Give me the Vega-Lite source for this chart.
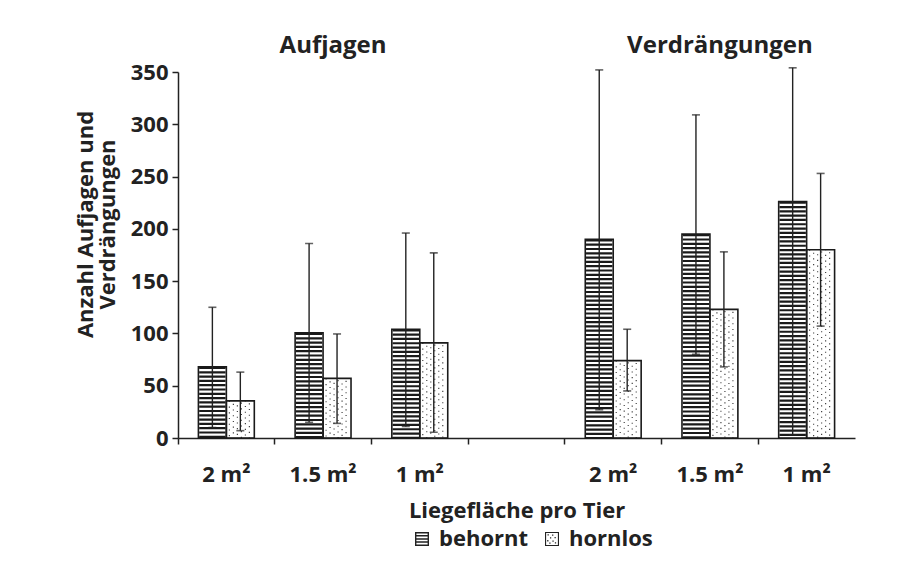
{
  "$schema": "https://vega.github.io/schema/vega-lite/v6.json",
  "width": 677,
  "height": 366,
  "autosize": {"type": "none"},
  "padding": {"left": 178, "top": 72, "right": 57, "bottom": 125},
  "background": "white",
  "config": {
    "view": {"stroke": null},
    "font": "Open Sans"
  },
  "datasets": {
    "counts": [
      {"flaeche": "A2", "gruppe": "behornt", "mittel": 68, "min": 10, "max": 125},
      {"flaeche": "A2", "gruppe": "hornlos", "mittel": 35.5, "min": 7, "max": 63},
      {"flaeche": "A1.5", "gruppe": "behornt", "mittel": 100.5, "min": 15, "max": 186},
      {"flaeche": "A1.5", "gruppe": "hornlos", "mittel": 57, "min": 14, "max": 99.5},
      {"flaeche": "A1", "gruppe": "behornt", "mittel": 104, "min": 11, "max": 196},
      {"flaeche": "A1", "gruppe": "hornlos", "mittel": 91, "min": 5.5, "max": 177},
      {"flaeche": "V2", "gruppe": "behornt", "mittel": 190, "min": 27, "max": 352},
      {"flaeche": "V2", "gruppe": "hornlos", "mittel": 74, "min": 45, "max": 104},
      {"flaeche": "V1.5", "gruppe": "behornt", "mittel": 195, "min": 80, "max": 309},
      {"flaeche": "V1.5", "gruppe": "hornlos", "mittel": 123, "min": 68, "max": 178},
      {"flaeche": "V1", "gruppe": "behornt", "mittel": 226, "min": 3, "max": 354},
      {"flaeche": "V1", "gruppe": "hornlos", "mittel": 180, "min": 107, "max": 253}
    ],
    "heads": [
      {"flaeche": "A1.5", "label": "Aufjagen"},
      {"flaeche": "V1.5", "label": "Verdrängungen"}
    ]
  },
  "encoding": {
    "x": {
      "field": "flaeche",
      "type": "nominal",
      "sort": null,
      "scale": {
        "domain": ["A2", "A1.5", "A1", "gap", "V2", "V1.5", "V1"],
        "paddingInner": 0,
        "paddingOuter": 0
      },
      "axis": {
        "title": "Liegefläche pro Tier",
        "labelExpr": "datum.value == 'gap' ? '' : slice(datum.value, 1) + ' m²'",
        "labelAngle": 0,
        "labelFontSize": 22,
        "labelFontWeight": "bold",
        "labelColor": "#222",
        "labelPadding": 20,
        "bandPosition": 0,
        "domainColor": "#222",
        "domainWidth": 1.5,
        "tickColor": "#222",
        "tickWidth": 1.5,
        "tickSize": 6,
        "titleFontSize": 22,
        "titleFontWeight": "bold",
        "titleColor": "#222",
        "titleY": 79,
        "titleBaseline": "alphabetic"
      }
    }
  },
  "layer": [
    {
      "data": {"name": "counts"},
      "transform": [{"filter": "datum.gruppe == 'behornt'"}],
      "mark": {"type": "rule", "strokeWidth": 26.4, "strokeDash": [2.2, 2.1], "strokeCap": "butt", "color": "#1a1a1a"},
      "encoding": {
        "xOffset": {"field": "gruppe", "type": "nominal", "scale": {"domain": ["behornt", "hornlos"], "paddingInner": 0, "paddingOuter": 0.73}},
        "y": {
          "field": "mittel",
          "type": "quantitative",
          "scale": {"domain": [0, 350], "nice": false},
          "axis": {
            "values": [0, 50, 100, 150, 200, 250, 300, 350],
            "grid": false,
            "labelFontSize": 22,
            "labelFontWeight": "bold",
            "labelColor": "#222",
            "labelPadding": 4,
            "domainColor": "#222",
            "domainWidth": 1.5,
            "tickColor": "#222",
            "tickWidth": 1.5,
            "tickSize": 6,
            "title": ["Anzahl Aufjagen und", "Verdrängungen"],
            "titleFontSize": 22,
            "titleFontWeight": "bold",
            "titleColor": "#222",
            "titleLineHeight": 22,
            "titleX": -86,
            "titleY": 152,
            "titleAngle": -90,
            "titleBaseline": "alphabetic",
            "titleAlign": "center"
          }
        },
        "y2": {"datum": 0}
      }
    },
    {
      "data": {"name": "counts"},
      "transform": [{"filter": "datum.gruppe == 'hornlos'"}],
      "layer": [
        {"mark": {"type": "rule", "xOffset": 3, "strokeWidth": 1.1, "strokeDash": [1.1, 4.6], "strokeDashOffset": 0, "color": "#333"}, "encoding": {}},
        {"mark": {"type": "rule", "xOffset": 7, "strokeWidth": 1.1, "strokeDash": [1.1, 4.6], "strokeDashOffset": 2.8, "color": "#333"}, "encoding": {}},
        {"mark": {"type": "rule", "xOffset": 11, "strokeWidth": 1.1, "strokeDash": [1.1, 4.6], "strokeDashOffset": 1.3, "color": "#333"}, "encoding": {}},
        {"mark": {"type": "rule", "xOffset": 15, "strokeWidth": 1.1, "strokeDash": [1.1, 4.6], "strokeDashOffset": 4.0, "color": "#333"}, "encoding": {}},
        {"mark": {"type": "rule", "xOffset": 19, "strokeWidth": 1.1, "strokeDash": [1.1, 4.6], "strokeDashOffset": 0.6, "color": "#333"}, "encoding": {}},
        {"mark": {"type": "rule", "xOffset": 23, "strokeWidth": 1.1, "strokeDash": [1.1, 4.6], "strokeDashOffset": 3.3, "color": "#333"}, "encoding": {}}
      ],
      "encoding": {
        "y": {"field": "mittel", "type": "quantitative"},
        "y2": {"datum": 0}
      }
    },
    {
      "data": {"name": "counts"},
      "mark": {"type": "bar", "fill": "transparent", "stroke": "#1a1a1a", "strokeWidth": 1.6},
      "encoding": {
        "xOffset": {"field": "gruppe", "type": "nominal"},
        "y": {"field": "mittel", "type": "quantitative"}
      }
    },
    {
      "data": {"name": "counts"},
      "mark": {"type": "point", "filled": true, "size": 0, "opacity": 1},
      "encoding": {
        "xOffset": {"field": "gruppe", "type": "nominal"},
        "y": {"field": "mittel", "type": "quantitative"},
        "color": {
          "field": "gruppe",
          "type": "nominal",
          "scale": {"domain": ["behornt", "hornlos"], "range": ["#222222", "#222222"]},
          "legend": {
            "title": null,
            "orient": "none",
            "legendX": 233,
            "legendY": 456,
            "padding": 0,
            "direction": "horizontal",
            "labelFontSize": 22,
            "labelFontWeight": "bold",
            "labelColor": "#222",
            "labelOffset": 6,
            "columnPadding": 13,
            "symbolSize": 196,
            "symbolStrokeWidth": 0
          }
        },
        "shape": {
          "field": "gruppe",
          "type": "nominal",
          "scale": {
            "domain": ["behornt", "hornlos"],
            "range": [
              "M-1,-1H1V-0.78H-1Z M-1,-0.56H1V-0.34H-1Z M-1,-0.12H1V0.1H-1Z M-1,0.32H1V0.54H-1Z M-1,0.78H1V1H-1Z M-1,-1H-0.8V1H-1Z M0.8,-1H1V1H0.8Z",
              "M-1,-1H1V-0.84H-1Z M-1,0.84H1V1H-1Z M-1,-1H-0.84V1H-1Z M0.84,-1H1V1H0.84Z M-0.64,-0.69H-0.46V-0.51H-0.64Z M0.01,-0.64H0.19V-0.46H0.01Z M-0.29,-0.24H-0.11V-0.06H-0.29Z M0.36,-0.29H0.54V-0.11H0.36Z M-0.69,0.16H-0.51V0.34H-0.69Z M0.06,0.21H0.24V0.39H0.06Z M0.41,0.46H0.59V0.64H0.41Z M-0.39,0.51H-0.21V0.69H-0.39Z"
            ]
          }
        }
      }
    },
    {
      "data": {"name": "counts"},
      "mark": {"type": "rule", "strokeWidth": 1.4, "color": "#222"},
      "encoding": {
        "xOffset": {"field": "gruppe", "type": "nominal"},
        "y": {"field": "min", "type": "quantitative"},
        "y2": {"field": "max"}
      }
    },
    {
      "data": {"name": "counts"},
      "mark": {"type": "tick", "orient": "horizontal", "size": 8, "thickness": 1.6, "color": "#222"},
      "encoding": {
        "xOffset": {"field": "gruppe", "type": "nominal"},
        "y": {"field": "max", "type": "quantitative"}
      }
    },
    {
      "data": {"name": "counts"},
      "mark": {"type": "tick", "orient": "horizontal", "size": 8, "thickness": 1.6, "color": "#222"},
      "encoding": {
        "xOffset": {"field": "gruppe", "type": "nominal"},
        "y": {"field": "min", "type": "quantitative"}
      }
    },
    {
      "data": {"name": "heads"},
      "mark": {"type": "text", "fontSize": 24, "fontWeight": "bold", "color": "#222", "baseline": "alphabetic", "align": "center", "dx": 10, "dy": -19},
      "encoding": {
        "y": {"datum": 350},
        "text": {"field": "label"}
      }
    }
  ]
}
